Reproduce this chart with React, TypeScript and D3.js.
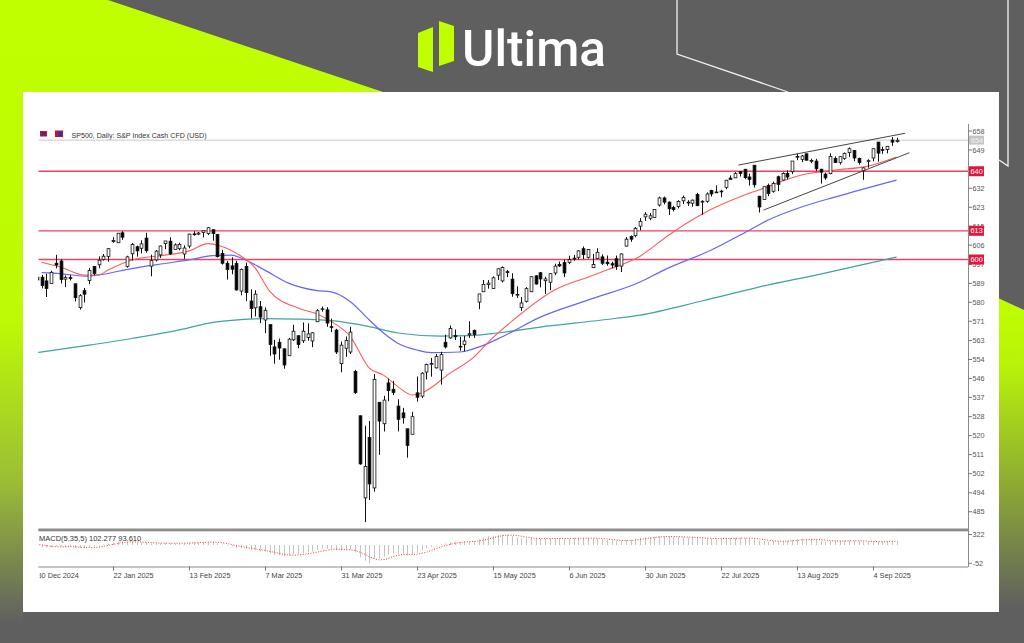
import React, { useEffect } from "react";
import * as d3 from "d3";

// ---------------- DATA ----------------
const dates = [
  "2024-12-30","2024-12-31","2025-01-02","2025-01-03","2025-01-06","2025-01-07","2025-01-08","2025-01-09","2025-01-10","2025-01-13",
  "2025-01-14","2025-01-15","2025-01-16","2025-01-17","2025-01-20","2025-01-21","2025-01-22","2025-01-23","2025-01-24","2025-01-27",
  "2025-01-28","2025-01-29","2025-01-30","2025-01-31","2025-02-03","2025-02-04","2025-02-05","2025-02-06","2025-02-07","2025-02-10",
  "2025-02-11","2025-02-12","2025-02-13","2025-02-14","2025-02-17","2025-02-18","2025-02-19","2025-02-20","2025-02-21","2025-02-24",
  "2025-02-25","2025-02-26","2025-02-27","2025-02-28","2025-03-03","2025-03-04","2025-03-05","2025-03-06","2025-03-07","2025-03-10",
  "2025-03-11","2025-03-12","2025-03-13","2025-03-14","2025-03-17","2025-03-18","2025-03-19","2025-03-20","2025-03-21","2025-03-24",
  "2025-03-25","2025-03-26","2025-03-27","2025-03-28","2025-03-31","2025-04-01","2025-04-02","2025-04-03","2025-04-04","2025-04-07",
  "2025-04-08","2025-04-09","2025-04-10","2025-04-11","2025-04-14","2025-04-15","2025-04-16","2025-04-17","2025-04-21","2025-04-22",
  "2025-04-23","2025-04-24","2025-04-25","2025-04-28","2025-04-29","2025-04-30","2025-05-01","2025-05-02","2025-05-05","2025-05-06",
  "2025-05-07","2025-05-08","2025-05-09","2025-05-12","2025-05-13","2025-05-14","2025-05-15","2025-05-16","2025-05-19","2025-05-20",
  "2025-05-21","2025-05-22","2025-05-23","2025-05-26","2025-05-27","2025-05-28","2025-05-29","2025-05-30","2025-06-02","2025-06-03",
  "2025-06-04","2025-06-05","2025-06-06","2025-06-09","2025-06-10","2025-06-11","2025-06-12","2025-06-13","2025-06-16","2025-06-17",
  "2025-06-18","2025-06-19","2025-06-20","2025-06-23","2025-06-24","2025-06-25","2025-06-26","2025-06-27","2025-06-30","2025-07-01",
  "2025-07-02","2025-07-03","2025-07-04","2025-07-07","2025-07-08","2025-07-09","2025-07-10","2025-07-11","2025-07-14","2025-07-15",
  "2025-07-16","2025-07-17","2025-07-18","2025-07-21","2025-07-22","2025-07-23","2025-07-24","2025-07-25","2025-07-28","2025-07-29",
  "2025-07-30","2025-07-31","2025-08-01","2025-08-04","2025-08-05","2025-08-06","2025-08-07","2025-08-08","2025-08-11","2025-08-12",
  "2025-08-13","2025-08-14","2025-08-15","2025-08-18","2025-08-19","2025-08-20","2025-08-21","2025-08-22","2025-08-25","2025-08-26",
  "2025-08-27","2025-08-28","2025-08-29","2025-09-01","2025-09-02","2025-09-03","2025-09-04","2025-09-05","2025-09-08","2025-09-09",
  "2025-09-10","2025-09-11",
];

const open = [
  5920,5920,5903,5891,5983,5993,5911,5918,5890,5782,
  5859,5905,5968,5976,6000,6014,6081,6076,6121,5969,
  6026,6058,6051,6097,5970,5998,6021,6072,6083,6046,
  6049,6025,6061,6116,6115,6122,6118,6135,6114,6027,
  5983,5971,5982,5857,5968,5812,5781,5786,5726,5705,
  5604,5625,5595,5564,5636,5655,5632,5647,5631,5718,
  5776,5772,5696,5680,5528,5598,5581,5493,5292,4920,
  5194,4965,5353,5256,5441,5412,5336,5305,5233,5208,
  5396,5381,5490,5529,5509,5499,5625,5645,5655,5606,
  5615,5659,5679,5807,5854,5887,5869,5929,5903,5945,
  5911,5841,5782,5810,5854,5926,5940,5904,5897,5939,
  5978,5986,5987,6005,6010,6049,6010,5963,6004,6012,
  5988,5981,6004,5970,6061,6104,6108,6151,6193,6187,
  6191,6247,6279,6260,6236,6240,6266,6256,6255,6295,
  6260,6264,6313,6305,6307,6327,6369,6370,6398,6409,
  6374,6427,6287,6272,6336,6309,6375,6360,6390,6398,
  6467,6454,6479,6445,6446,6409,6387,6389,6458,6440,
  6458,6484,6494,6458,6402,6448,6460,6532,6498,6498,
  6541,6534,
];
const high = [
  5941,5930,5935,5949,6021,6001,5928,5930,5891,5843,
  5871,5961,5970,6014,6025,6052,6101,6119,6128,6017,
  6075,6063,6087,6121,6022,6043,6063,6084,6101,6073,
  6076,6064,6117,6128,6125,6130,6147,6135,6115,6044,
  5993,6010,5994,5959,5986,5865,5861,5812,5783,5705,
  5636,5642,5598,5645,5704,5655,5715,5711,5671,5775,
  5787,5784,5732,5686,5628,5651,5695,5500,5292,5247,
  5268,5481,5353,5382,5460,5450,5367,5328,5233,5310,
  5470,5489,5528,5554,5572,5582,5659,5701,5683,5650,
  5654,5720,5683,5844,5907,5907,5924,5959,5969,5953,
  5938,5878,5830,5875,5925,5929,5943,5922,5937,5981,
  5991,6000,6017,6021,6043,6059,6045,6026,6051,6023,
  6018,5990,6018,6028,6102,6109,6147,6188,6215,6211,
  6228,6285,6285,6263,6243,6269,6290,6269,6272,6302,
  6268,6304,6316,6336,6316,6361,6381,6396,6401,6409,
  6389,6427,6288,6331,6344,6353,6380,6395,6404,6446,
  6480,6474,6481,6457,6456,6411,6394,6481,6467,6468,
  6485,6508,6495,6462,6417,6454,6503,6533,6511,6513,
  6555,6552,
];
const low = [
  5869,5869,5830,5889,5960,5891,5875,5905,5810,5773,
  5805,5888,5929,5960,5995,5990,6076,6075,6089,5963,
  5995,6013,6028,6031,5924,5991,6007,6047,6020,6045,
  6042,6003,6051,6108,6110,6100,6111,6085,6009,5977,
  5909,5933,5859,5838,5811,5733,5742,5712,5666,5564,
  5528,5546,5505,5564,5631,5598,5622,5632,5603,5718,
  5764,5695,5671,5572,5489,5559,5572,5391,5070,4810,
  4910,4948,5115,5221,5358,5386,5221,5256,5102,5208,
  5356,5372,5456,5469,5506,5433,5597,5641,5635,5587,
  5584,5645,5645,5775,5853,5868,5867,5907,5896,5920,
  5831,5826,5767,5805,5854,5887,5874,5844,5861,5929,
  5966,5921,5979,5994,6000,6002,6004,5963,6004,5975,
  5972,5960,5953,5943,6059,6080,6101,6132,6175,6178,
  6188,6240,6250,6202,6218,6232,6251,6243,6239,6242,
  6202,6257,6285,6304,6282,6318,6361,6369,6376,6364,
  6335,6326,6213,6272,6287,6303,6310,6357,6363,6387,
  6450,6441,6448,6437,6400,6344,6361,6386,6438,6430,
  6452,6465,6445,6430,6361,6416,6445,6443,6479,6481,
  6515,6530,
];
const close = [
  5907,5882,5869,5942,5975,5909,5918,5915,5827,5836,
  5843,5950,5937,5997,6015,6049,6086,6119,6101,6012,
  6068,6039,6071,6040,5995,6038,6061,6084,6026,6066,
  6068,6052,6115,6115,6120,6130,6144,6118,6013,5983,
  5955,5956,5862,5955,5850,5778,5843,5739,5770,5615,
  5572,5599,5522,5639,5675,5615,5675,5663,5668,5768,
  5777,5712,5693,5581,5612,5633,5671,5397,5074,5062,
  4983,5457,5268,5363,5406,5397,5276,5283,5158,5288,
  5376,5485,5525,5529,5561,5569,5604,5687,5650,5607,
  5631,5664,5660,5844,5887,5893,5917,5958,5964,5941,
  5845,5842,5803,5868,5922,5889,5912,5912,5936,5970,
  5971,5939,6000,6006,6039,6022,6045,5977,6033,5983,
  5981,5975,5968,6025,6092,6092,6141,6173,6205,6198,
  6227,6279,6260,6230,6226,6263,6281,6260,6269,6244,
  6264,6297,6297,6306,6310,6359,6363,6389,6390,6371,
  6363,6339,6238,6330,6299,6345,6340,6390,6374,6446,
  6467,6469,6450,6449,6411,6396,6370,6467,6439,6466,
  6481,6502,6460,6440,6415,6448,6502,6482,6495,6513,
  6532,6540,
];

// moving averages: [bar index, price]
const maRed = [[1,5988],[5,5966],[10,5930],[13,5930],[15,5952],[20,5998],[27,6020],[32,6038],[36,6072],[39,6059],[42,6029],[46,5961],[49,5857],[55,5780],[59,5753],[62,5719],[66,5651],[70,5508],[73,5476],[76,5424],[79,5386],[81,5395],[87,5485],[92,5558],[95,5625],[100,5720],[109,5862],[116,5920],[120,5952],[127,6015],[133,6110],[140,6205],[149,6292],[152,6315],[161,6383],[168,6405],[175,6423],[181,6464]];
const maBlue = [[1,5941],[5,5936],[10,5925],[13,5930],[20,5959],[27,5982],[32,5998],[37,6018],[41,6020],[43,6007],[48,5952],[53,5893],[59,5859],[62,5853],[66,5809],[70,5726],[73,5667],[76,5621],[80,5590],[83,5578],[89,5581],[93,5603],[98,5650],[106,5739],[116,5816],[127,5898],[132,5952],[142,6043],[150,6133],[154,6179],[161,6238],[168,6283],[181,6360]];
const maTeal = [[0,5578],[11,5612],[20,5642],[30,5681],[36,5711],[43,5728],[48,5732],[55,5730],[62,5723],[70,5696],[76,5667],[85,5653],[91,5655],[97,5667],[106,5694],[119,5726],[127,5748],[140,5812],[152,5875],[165,5934],[181,6011]];

// channel drawn on the chart: [bar index, price]
const channelUpper = [[147.7,6428],[182.8,6572]];
const channelLower = [[153,6224],[183.7,6484]];

// horizontal levels
const levelValues = [6400, 6130, 6000];
const levelLabels = ["640", "613", "600"];
const bidValue = 6541;
const bidLabel = "654";

// price axis ticks (the 640 tick text is hidden under its level label)
const yTickValues = [6582,6496,6410,6323,6237,6151,6065,5978,5892,5806,5720,5633,5547,5461,5375,5288,5202,5116,5030,4943,4857];
const yTickLabels = ["658","649","","632","623","615","606","597","589","580","571","563","554","546","537","528","520","511","502","494","485"];

// time axis labels
const xLabelDates = ["2024-12-30","2025-01-22","2025-02-13","2025-03-07","2025-03-31","2025-04-23","2025-05-15","2025-06-06","2025-06-30","2025-07-22","2025-08-13","2025-09-04"];
const xLabelTexts = ["30 Dec 2024","22 Jan 2025","13 Feb 2025","7 Mar 2025","31 Mar 2025","23 Apr 2025","15 May 2025","6 Jun 2025","30 Jun 2025","22 Jul 2025","13 Aug 2025","4 Sep 2025"];

// MACD(5,35,5)
const macd = [
  -20,-42,-59,-48,-31,-38,-39,-40,-65,-76,
  -80,-52,-36,-9,13,36,61,84,92,71,
  71,62,65,56,37,37,42,51,40,43,
  45,40,55,62,68,72,78,73,39,9,
  -18,-35,-71,-66,-91,-125,-126,-153,-159,-203,
  -238,-249,-272,-250,-221,-215,-191,-175,-161,-121,
  -91,-89,-91,-122,-131,-128,-113,-178,-305,-377,
  -441,-339,-323,-280,-236,-207,-218,-219,-250,-229,
  -187,-127,-76,-41,-9,13,37,74,85,79,
  81,89,92,143,184,208,226,244,253,248,
  213,186,155,152,161,154,154,151,153,161,
  163,152,160,163,172,170,171,150,150,133,
  119,106,95,101,122,133,151,169,185,190,
  198,214,215,203,190,189,190,181,175,161,
  155,157,155,154,151,161,165,171,173,165,
  155,139,98,97,85,89,89,100,102,121,
  136,144,141,136,120,103,84,97,96,100,
  106,113,104,94,76,72,84,84,86,91,
  98,102,
];
const macdSignal = [
  11,1,-16,-32,-40,-44,-43,-39,-43,-52,
  -60,-63,-62,-51,-33,-10,13,37,57,69,
  76,76,72,65,58,51,47,45,41,43,
  44,44,45,49,54,59,67,71,66,54,
  36,14,-15,-36,-56,-78,-96,-112,-131,-153,
  -176,-200,-224,-242,-246,-241,-230,-210,-193,-173,
  -148,-127,-111,-103,-105,-112,-117,-134,-171,-220,
  -283,-328,-357,-352,-324,-277,-253,-232,-226,-225,
  -221,-202,-174,-132,-88,-48,-15,15,40,58,
  71,82,85,97,118,143,171,201,223,236,
  237,229,211,191,173,162,155,154,155,155,
  156,156,158,160,162,163,167,165,163,155,
  145,132,121,111,109,111,120,135,152,166,
  179,191,200,204,204,202,197,191,185,179,
  172,166,161,156,154,156,157,160,164,167,
  166,161,146,131,115,102,92,92,93,100,
  110,121,129,136,135,129,117,108,100,96,
  97,102,104,103,99,92,86,82,80,83,
  89,92,
];
const macdTitle = "MACD(5,35,5) 102.277 93.610";
const macdMaxLabel = "322";
const macdMinLabel = "-52";
const chartTitle = "SP500, Daily:  S&P Index Cash CFD (USD)";

// ---------------- LAYOUT ----------------
const W = 1024, H = 643;
const PLOT_L = 38.3, PLOT_R = 968;
const MAIN_T = 124, MAIN_B = 527;
const MACD_T = 532, MACD_B = 566.5;
const AXIS_FONT = "'Liberation Sans', Arial, sans-serif";

export default function App() {
  useEffect(() => {
    document.body.style.margin = "0";
    document.body.style.overflow = "hidden";
  }, []);

  const N = dates.length;
  const x = d3.scaleLinear().domain([0, N - 1]).range([36.8, 36.8 + (N - 1) * 4.75]);
  const y = d3.scaleLinear().domain([4788, 6614]).range([MAIN_B, MAIN_T]);
  const my = d3.scaleLinear().domain([-441, 253]).range([563.3, 534.5]);

  const maLine = d3
    .line<number[]>()
    .x((d) => x(d[0]))
    .y((d) => y(d[1]))
    .curve(d3.curveMonotoneX);
  const straight = d3
    .line<number[]>()
    .x((d) => x(d[0]))
    .y((d) => y(d[1]));
  const sigLine = d3
    .line<number>()
    .x((_, i) => x(i))
    .y((d) => my(d))
    .curve(d3.curveMonotoneX);

  const dateIndex = new Map(dates.map((d, i) => [d, i] as [string, number]));

  return (
    <div style={{ width: W, height: H, position: "relative", overflow: "hidden" }}>
      <style>{"body{margin:0;overflow:hidden}"}</style>
      <svg width={W} height={H} style={{ display: "block", position: "absolute", left: 0, top: 0 }}>
        <defs>
          <linearGradient id="limeL" gradientUnits="userSpaceOnUse" x1="0" y1="0" x2="0" y2="643">
            <stop offset="0" stopColor="#c0ff00" />
            <stop offset="0.5" stopColor="#bdfa04" />
            <stop offset="0.75" stopColor="#9bbd36" />
            <stop offset="0.97" stopColor="#5f5f5f" />
          </linearGradient>
          <linearGradient id="limeR" gradientUnits="userSpaceOnUse" x1="0" y1="298" x2="0" y2="643">
            <stop offset="0" stopColor="#c0ff00" />
            <stop offset="0.2" stopColor="#b8f20a" />
            <stop offset="0.9" stopColor="#5f5f5f" />
          </linearGradient>
          <clipPath id="mainClip">
            <rect x={PLOT_L} y={MAIN_T} width={PLOT_R - PLOT_L} height={MAIN_B - MAIN_T} />
          </clipPath>
          <clipPath id="macdClip">
            <rect x={PLOT_L} y={MACD_T} width={PLOT_R - PLOT_L} height={MACD_B - MACD_T} />
          </clipPath>
          <clipPath id="xlabClip">
            <rect x={39.6} y={566} width={PLOT_R - 39.6 + 40} height={20} />
          </clipPath>
        </defs>

        {/* background frame */}
        <rect x={0} y={0} width={W} height={H} fill="#5f5f5f" />
        <polygon points="0,0 108,0 383,92 23,92 23,643 0,643" fill="url(#limeL)" />
        <polygon points="998,298 1024,310 1024,643 998,643" fill="url(#limeR)" />
        <polyline points="677,0 677,54 788,92" fill="none" stroke="#f2f2f2" strokeWidth={1.3} />
        <polyline points="1008,0 1008,166 999,160" fill="none" stroke="#f2f2f2" strokeWidth={1.3} />

        {/* logo */}
        <polygon points="418,33 433,27 433,72 418,67" fill="#c0ff00" />
        <polygon points="439,21 454,26 454,61 439,66" fill="#c0ff00" />
        <text x={462} y={66} fill="#ffffff" fontFamily="Roboto, 'Open Sans', sans-serif" fontWeight={500} fontSize={50} textLength={144} lengthAdjust="spacingAndGlyphs">
          Ultima
        </text>

        {/* white panel */}
        <rect x={23} y={92} width={976} height={520} fill="#ffffff" />

        {/* title */}
        <rect x={40} y={131} width={7} height={5.5} fill="#c8102e" />
        <rect x={41.5} y={132.2} width={4} height={3.2} fill="#2b3a8c" />
        <rect x={55} y={130.5} width={8} height={6.5} fill="#c8102e" />
        <rect x={58.5} y={131.5} width={3.5} height={4.5} fill="#1f3f9a" />
        <text x={71.5} y={137.5} fontFamily={AXIS_FONT} fontSize={7} fill="#333" textLength={135} lengthAdjust="spacingAndGlyphs">
          {chartTitle}
        </text>

        {/* main chart */}
        <g clipPath="url(#mainClip)">
          {/* bid line */}
          <line x1={PLOT_L} x2={PLOT_R} y1={y(bidValue)} y2={y(bidValue)} stroke="#c8c8c8" strokeWidth={1} />
          {/* horizontal levels */}
          {levelValues.map((v) => (
            <line key={v} x1={PLOT_L} x2={PLOT_R} y1={y(v)} y2={y(v)} stroke="#eb4363" strokeWidth={1.3} />
          ))}
          {/* moving averages */}
          <path d={maLine(maTeal) || ""} fill="none" stroke="#3fa3a0" strokeWidth={1.2} />
          <path d={maLine(maBlue) || ""} fill="none" stroke="#6666f0" strokeWidth={1.2} />
          <path d={maLine(maRed) || ""} fill="none" stroke="#ff5c5c" strokeWidth={1.1} />
          {/* candles */}
          {dates.map((d, i) => {
            const o = open[i], c = close[i], h = high[i], l = low[i];
            const cx = Math.round(x(i)) + 0.5;
            const bull = c >= o;
            const top = y(Math.max(o, c));
            const bot = y(Math.min(o, c));
            return (
              <g key={d}>
                <line x1={cx} x2={cx} y1={y(h)} y2={y(l)} stroke="#111" strokeWidth={1} />
                <rect
                  x={cx - 1.4}
                  y={top}
                  width={2.8}
                  height={Math.max(bot - top, 0.8)}
                  fill={bull ? "#ffffff" : "#000000"}
                  stroke="#111"
                  strokeWidth={0.8}
                />
              </g>
            );
          })}
          {/* channel */}
          <path d={straight(channelUpper) || ""} fill="none" stroke="#444" strokeWidth={1} />
          <path d={straight(channelLower) || ""} fill="none" stroke="#444" strokeWidth={1} />
        </g>

        {/* separator between windows */}
        <rect x={PLOT_L} y={528.5} width={PLOT_R - PLOT_L} height={2.8} fill="#8c8c8c" />

        {/* MACD window */}
        <g clipPath="url(#macdClip)">
          {macd.map((v, i) => (
            <line key={i} x1={Math.round(x(i)) + 0.5} x2={Math.round(x(i)) + 0.5} y1={my(0)} y2={my(v)} stroke="#c4c4c4" strokeWidth={1} />
          ))}
          <path d={sigLine(macdSignal) || ""} fill="none" stroke="#ff3030" strokeWidth={1} strokeDasharray="1 1.6" />
        </g>
        <text x={39} y={541} fontFamily={AXIS_FONT} fontSize={7.5} fill="#333">
          {macdTitle}
        </text>

        {/* right axis */}
        <line x1={PLOT_R + 0.5} x2={PLOT_R + 0.5} y1={MAIN_T} y2={MACD_B + 0.5} stroke="#8a8a8a" strokeWidth={1} />
        {yTickValues.map((v, i) => (
          <g key={v}>
            <line x1={PLOT_R} x2={PLOT_R + 4} y1={y(v)} y2={y(v)} stroke="#777" strokeWidth={1} />
            {yTickLabels[i] ? (
              <text x={PLOT_R + 4.5} y={y(v) + 2.6} fontFamily={AXIS_FONT} fontSize={7.2} fill="#555">
                {yTickLabels[i]}
              </text>
            ) : null}
          </g>
        ))}
        {/* bid label */}
        <rect x={PLOT_R + 1} y={y(bidValue) - 4.5} width={15} height={9} fill="#c4c4c4" />
        <text x={PLOT_R + 3} y={y(bidValue) + 2.6} fontFamily={AXIS_FONT} fontSize={7.2} fill="#f4f4f4">
          {bidLabel}
        </text>
        {/* level labels */}
        {levelValues.map((v, i) => (
          <g key={"lab" + v}>
            <rect x={PLOT_R + 1} y={y(v) - 5} width={15} height={10} fill="#e3173d" />
            <text x={PLOT_R + 2.5} y={y(v) + 2.6} fontFamily={AXIS_FONT} fontSize={7.4} fill="#ffffff">
              {levelLabels[i]}
            </text>
          </g>
        ))}
        {/* MACD axis labels */}
        <line x1={PLOT_R} x2={PLOT_R + 4} y1={my(253)} y2={my(253)} stroke="#777" />
        <text x={PLOT_R + 4.5} y={my(253) + 2.6} fontFamily={AXIS_FONT} fontSize={7.2} fill="#555">
          {macdMaxLabel}
        </text>
        <line x1={PLOT_R} x2={PLOT_R + 4} y1={my(-441)} y2={my(-441)} stroke="#777" />
        <text x={PLOT_R + 4.5} y={my(-441) + 2.6} fontFamily={AXIS_FONT} fontSize={7.2} fill="#555">
          {macdMinLabel}
        </text>

        {/* time axis */}
        <line x1={PLOT_L} x2={PLOT_R} y1={MACD_B + 0.5} y2={MACD_B + 0.5} stroke="#8a8a8a" strokeWidth={1} />
        <g clipPath="url(#xlabClip)">
          {xLabelDates.map((d, i) => {
            const xi = Math.round(x(dateIndex.get(d) as number)) + 0.5;
            return (
              <g key={d}>
                <line x1={xi} x2={xi} y1={MACD_B} y2={MACD_B + 4} stroke="#777" strokeWidth={1} />
                <text x={xi} y={577.5} fontFamily={AXIS_FONT} fontSize={7.3} fill="#444">
                  {xLabelTexts[i]}
                </text>
              </g>
            );
          })}
        </g>
      </svg>
    </div>
  );
}
